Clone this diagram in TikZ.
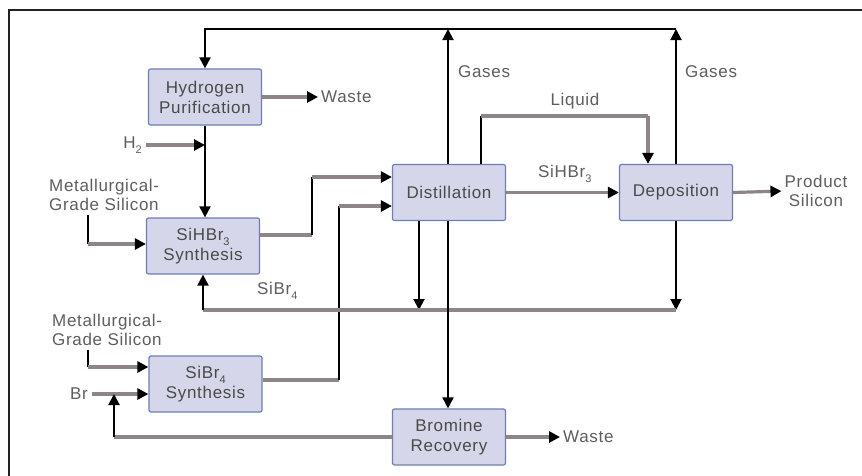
\documentclass[tikz,border=0pt]{standalone}
\usepackage{fontspec}
\setmainfont{Liberation Sans}[LetterSpace=4]
\usetikzlibrary{arrows.meta}
\definecolor{boxfill}{HTML}{D6D6EA}
\definecolor{boxdraw}{HTML}{6E7DB8}
\definecolor{stream}{HTML}{8E8686}
\definecolor{boxtxt}{HTML}{4A4A4A}
\definecolor{lbltxt}{HTML}{5E5E5E}
\definecolor{frame}{HTML}{222222}
\newcommand\mysub[1]{\raisebox{-0.55ex}{\fontsize{11}{11}\selectfont #1}}
\begin{document}
\begin{tikzpicture}[x=1pt,y=-1pt,
  unit/.style={draw=boxdraw, fill=boxfill, line width=1.2pt, rounded corners=2pt,
    minimum width=113pt, minimum height=56pt, inner sep=0pt, align=center,
    text=boxtxt, font=\fontsize{17}{20}\selectfont},
  lbl/.style={text=lbltxt, font=\fontsize{17}{19}\selectfont, inner sep=0pt},
  blk/.style={draw=black, line width=2pt},
  gry/.style={draw=stream, line width=3.2pt},
  arr/.style={-{Triangle[length=11pt,width=11pt,color=black]}},
]
\fill[white] (0,0) rectangle (862,475);
\useasboundingbox (0,0) rectangle (862,475);
\draw[frame, line width=2.5pt] (9,490) -- (9,10) -- (880,10);

% units
\node[unit] (hp)   at (205,97)    {Hydrogen\\Purification};
\node[unit] (shs)  at (203,246)   {SiHBr\mysub{3}\\Synthesis};
\node[unit] (sbs)  at (205.5,384) {SiBr\mysub{4}\\Synthesis};
\node[unit] (dist) at (449,192.5) {Distillation};
\node[unit] (dep)  at (676,192.5) {Deposition};
\node[unit] (brr)  at (449,437)   {Bromine\\Recovery};

% labels
\node[lbl, anchor=west] (waste1) at (321,97) {Waste};
\node[lbl, anchor=east] (h2) at (142,145) {H\mysub{2}};
\node[lbl, anchor=west, align=left] (mg1) at (49,195) {Metallurgical-\\Grade Silicon};
\node[lbl, anchor=west, align=left] (mg2) at (52,330) {Metallurgical-\\Grade Silicon};
\node[lbl, anchor=east] (br) at (88,394) {Br};
\node[lbl, anchor=west] (gas1) at (458,72) {Gases};
\node[lbl, anchor=west] (gas2) at (685,72) {Gases};
\node[lbl] (liq) at (575,101) {Liquid};
\node[lbl, anchor=west] (sihbr) at (538,174) {SiHBr\mysub{3}};
\node[lbl, anchor=west] (sibr) at (257,291) {SiBr\mysub{4}};
\node[lbl, align=center] (prod) at (816,191) {Product\\Silicon};
\node[lbl, anchor=west] (waste2) at (563,437) {Waste};

% helper coordinates
\coordinate (tr) at (676,29);
\coordinate (tm) at (448,29);
\coordinate (tl) at (205,29);
\coordinate (m1) at (88,0);
\coordinate (c1) at (312,235);
\coordinate (c2) at (312,177);
\coordinate (c3) at (339,380);
\coordinate (c4) at (339,206);
\coordinate (l1) at (481,116);
\coordinate (l2) at (648,116);
\coordinate (d1) at (419,310);
\coordinate (r1) at (676,310);
\coordinate (r2) at (203,310);
\coordinate (g1) at (88,244);
\coordinate (g2) at (88,367);
\coordinate (b1) at (114,437);

% gases loop
\draw[blk, arr] (dep.north) -- (tr);
\draw[blk, arr] (dist.north -| tm) -- (tm);
\draw[blk, arr] (tr) -- (tl) -- (hp.north -| tl);

% hydrogen purification
\draw[gry, arr, shorten >=3pt] (hp.east) -- (waste1.west);
\draw[gry, arr, shorten <=4pt] (h2.east) -- (h2.east -| hp.south);
\draw[blk, arr] (hp.south) -- (shs.north -| hp.south);

% SiHBr3 synthesis
\draw[blk] ([yshift=-4pt]mg1.south -| m1) -- (g1);
\draw[gry, arr] (g1) -- (shs.west |- g1);
\draw[gry] ([yshift=11pt]shs.east) -- (c1);
\draw[blk] (c1) -- (c2);
\draw[gry, arr] (c2) -- (dist.west |- c2);

% SiBr4 synthesis
\draw[blk] ([yshift=-4pt]mg2.south -| m1) -- (g2);
\draw[gry, arr] (g2) -- (sbs.west |- g2);
\draw[gry, arr, shorten <=4pt] (br.east) -- (sbs.west |- br.east);
\draw[gry] ([yshift=4pt]sbs.east) -- (c3);
\draw[blk] (c3) -- (c4);
\draw[gry, arr] (c4) -- (dist.west |- c4);

% distillation / deposition
\draw[gry, arr] (dist.east) -- (dep.west);
\draw[blk] (dist.north -| l1) -- (l1);
\draw[gry] (l1) -- (l2);
\draw[gry, arr] (l2) -- (dep.north -| l2);
\draw[gry, arr, shorten >=3pt] (dep.east) -- (prod.west);

% SiBr4 recycle
\draw[blk, arr] (dist.south -| d1) -- (d1);
\draw[blk, arr] (dep.south) -- (r1);
\draw[gry] (r1) -- (r2);
\draw[blk, arr] (r2) -- (shs.south -| r2);

% bromine recovery
\draw[blk, arr] (dist.south -| tm) -- (brr.north -| tm);
\draw[gry] (brr.west) -- (b1);
\draw[blk, arr] (b1) -- (b1 |- br.east);
\draw[gry, arr, shorten >=3pt] (brr.east) -- (waste2.west);
\end{tikzpicture}
\end{document}
